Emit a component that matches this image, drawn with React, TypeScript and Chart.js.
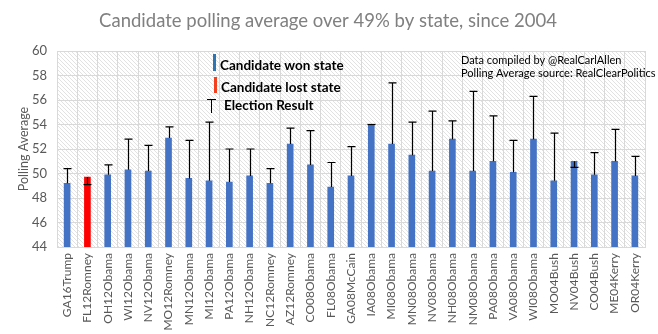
import React, { useEffect, useRef } from "react";
import { Chart, registerables } from "chart.js";

Chart.register(...registerables);

const categories = [
  "GA16Trump", "FL12Romney", "OH12Obama", "WI12Obama", "NV12Obama", "MO12Romney",
  "MN12Obama", "MI12Obama", "PA12Obama", "NH12Obama", "NC12Romney", "AZ12Romney",
  "CO08Obama", "FL08Obama", "GA08McCain", "IA08Obama", "MI08Obama", "MN08Obama",
  "NV08Obama", "NH08Obama", "NM08Obama", "PA08Obama", "VA08Obama", "WI08Obama",
  "MO04Bush", "NV04Bush", "CO04Bush", "ME04Kerry", "OR04Kerry",
];

const pollingAverage = [
  49.2, 49.7, 49.9, 50.3, 50.2, 52.9, 49.6, 49.4, 49.3, 49.8, 49.2, 52.4,
  50.7, 48.9, 49.8, 54.0, 52.4, 51.5, 50.2, 52.8, 50.2, 51.0, 50.1, 52.8,
  49.4, 51.0, 49.9, 51.0, 49.8,
];

const electionResult = [
  50.4, 49.1, 50.7, 52.8, 52.3, 53.8, 52.7, 54.2, 52.0, 52.0, 50.4, 53.7,
  53.5, 50.9, 52.2, 54.0, 57.4, 54.2, 55.1, 54.3, 56.7, 54.7, 52.7, 56.3,
  53.3, 50.5, 51.7, 53.6, 51.4,
];

const wonState = [
  true, false, true, true, true, true, true, true, true, true, true, true,
  true, true, true, true, true, true, true, true, true, true, true, true,
  true, true, true, true, true,
];

const yTicks = { min: 44, max: 60, step: 2 };

const TITLE = "Candidate polling average over 49% by state, since 2004";
const Y_TITLE = "Polling Average";
const LEGEND_WON = "Candidate won state";
const LEGEND_LOST = "Candidate lost state";
const LEGEND_RESULT = "Election Result";
const NOTE_1 = "Data compiled by @RealCarlAllen";
const NOTE_2 = "Polling Average source: RealClearPolitics";

export default function App() {
  const ref = useRef<HTMLCanvasElement>(null);

  useEffect(() => {
    const canvas = ref.current!;
    const pc = document.createElement("canvas");
    pc.width = 4;
    pc.height = 4;
    const pctx = pc.getContext("2d")!;
    pctx.fillStyle = "#ffffff";
    pctx.fillRect(0, 0, 4, 4);
    pctx.strokeStyle = "#e2e2e2";
    pctx.lineWidth = 1;
    pctx.beginPath();
    pctx.moveTo(0, 0);
    pctx.lineTo(4, 4);
    pctx.moveTo(-1, 3);
    pctx.lineTo(1, 5);
    pctx.moveTo(3, -1);
    pctx.lineTo(5, 1);
    pctx.stroke();
    const pattern = canvas.getContext("2d")!.createPattern(pc, "repeat")!;

    const bgPlugin = {
      id: "hatchBg",
      beforeDraw(chart: any) {
        const { ctx, chartArea: a } = chart;
        ctx.save();
        ctx.fillStyle = "#ffffff";
        ctx.fillRect(0, 0, chart.width, chart.height);
        ctx.fillStyle = pattern;
        ctx.fillRect(a.left, a.top, a.right - a.left, a.bottom - a.top);
        ctx.restore();
      },
    };

    const overlayPlugin = {
      id: "overlay",
      afterDatasetsDraw(chart: any) {
        const { ctx, scales, chartArea: a } = chart;
        const xs = scales.x;
        const ys = scales.y;
        ctx.save();
        // chart area border
        ctx.strokeStyle = "#d9d9d9";
        ctx.lineWidth = 1;
        ctx.strokeRect(Math.round(a.left) + 0.5, Math.round(a.top) + 0.5, Math.round(a.right - a.left), Math.round(a.bottom - a.top));
        // error bars
        ctx.strokeStyle = "#000000";
        ctx.lineWidth = 1.2;
        for (let i = 0; i < categories.length; i++) {
          const x = Math.round(xs.getPixelForValue(i)) + 0.5;
          const y1 = ys.getPixelForValue(pollingAverage[i]);
          const y2 = ys.getPixelForValue(electionResult[i]);
          ctx.beginPath();
          ctx.moveTo(x, y1);
          ctx.lineTo(x, y2);
          ctx.moveTo(x - 4, y2);
          ctx.lineTo(x + 4, y2);
          ctx.stroke();
        }
        // legend
        ctx.fillStyle = "#2e75b6";
        ctx.fillRect(213, 54, 3, 17);
        ctx.fillStyle = "#f4401e";
        ctx.fillRect(214, 77, 3, 16);
        ctx.strokeStyle = "#000000";
        ctx.lineWidth = 1;
        ctx.beginPath();
        ctx.moveTo(207, 99.5);
        ctx.lineTo(216, 99.5);
        ctx.moveTo(211.5, 99.5);
        ctx.lineTo(211.5, 113);
        ctx.stroke();
        ctx.fillStyle = "#000000";
        ctx.textBaseline = "middle";
        ctx.textAlign = "left";
        ctx.font = "bold 13.5px Lato";
        ctx.fillText(LEGEND_WON, 220, 66);
        ctx.fillText(LEGEND_LOST, 221, 88);
        ctx.fillText(LEGEND_RESULT, 224, 106);
        ctx.font = "11px Lato";
        ctx.fillText(NOTE_1, 461, 60);
        ctx.fillText(NOTE_2, 461, 73);
        // title
        ctx.fillStyle = "#808080";
        ctx.textAlign = "center";
        ctx.font = "18.5px Lato";
        ctx.fillText(TITLE, 328, 21);
        ctx.restore();
      },
    };

    const chart = new Chart(canvas, {
      type: "bar",
      data: {
        labels: categories,
        datasets: [
          {
            data: pollingAverage,
            backgroundColor: wonState.map((w) => (w ? "#4472c4" : "#ff0000")),
            barThickness: 6,
          },
        ],
      },
      options: {
        animation: false,
        responsive: false,
        maintainAspectRatio: false,
        layout: { padding: { top: 51, right: 13, left: 16, bottom: 0 } },
        plugins: {
          legend: { display: false },
          tooltip: { enabled: false },
          title: { display: false },
        },
        scales: {
          x: {
            grid: { color: "#d9d9d9", offset: true, drawTicks: false },
            border: { display: false },
            ticks: {
              color: "#595959",
              font: { family: "Lato", size: 12 },
              maxRotation: 90,
              minRotation: 90,
              autoSkip: false,
              padding: 6,
            },
            afterFit(scale: any) {
              scale.height = 87;
            },
          },
          y: {
            min: yTicks.min,
            max: yTicks.max,
            grid: { color: "#d9d9d9", drawTicks: false },
            border: { display: false },
            ticks: {
              stepSize: yTicks.step,
              color: "#595959",
              font: { family: "Lato", size: 13 },
              padding: 10,
            },
            title: {
              display: true,
              text: Y_TITLE,
              color: "#595959",
              font: { family: "Lato", size: 12.5 },
              padding: 0,
            },
            afterFit(scale: any) {
              scale.width = 41;
            },
          },
        },
      },
      plugins: [bgPlugin, overlayPlugin],
    });
    return () => chart.destroy();
  }, []);

  return (
    <div style={{ position: "absolute", left: 0, top: 0, width: 658, height: 334 }}>
      <canvas ref={ref} width={658} height={334} style={{ width: 658, height: 334 }} />
    </div>
  );
}
